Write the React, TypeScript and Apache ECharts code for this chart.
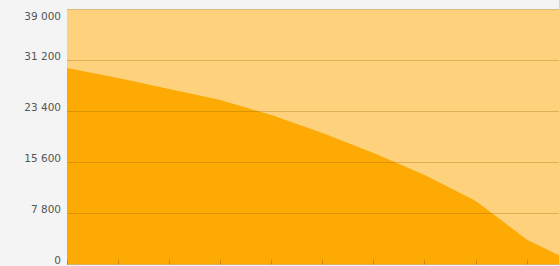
import React, { useEffect, useRef } from "react";
import * as echarts from "echarts";

const categories = ["0", "1", "2", "3", "4", "5", "6", "7", "8", "9", "10"];
const seriesValues = [30050, 28520, 26840, 25160, 22860, 20110, 17050, 13690, 9710, 3800, 0];
const yTickLabels = ["0", "7 800", "15 600", "23 400", "31 200", "39 000"];

export default function App() {
  const ref = useRef<HTMLDivElement>(null);
  useEffect(() => {
    document.body.style.margin = "0";
    const chart = echarts.init(ref.current!, undefined, { renderer: "svg" });
    chart.setOption({
      animation: false,
      backgroundColor: "#f4f4f4",
      grid: {
        left: 67,
        top: 9.5,
        width: 511,
        height: 255,
        show: true,
        backgroundColor: "#fed27c",
        borderWidth: 0,
      },
      xAxis: {
        type: "category",
        data: categories,
        boundaryGap: false,
        z: 3,
        axisLine: { show: false },
        axisTick: { show: true, inside: true, length: 5, lineStyle: { color: "rgba(120,80,0,0.35)" } },
        axisLabel: { show: false },
        splitLine: { show: false },
      },
      yAxis: {
        type: "value",
        min: 0,
        max: 39000,
        interval: 7800,
        z: 3,
        axisLine: { show: false },
        axisTick: { show: false },
        splitLine: { show: true, lineStyle: { color: "rgba(150,100,0,0.3)", width: 1 } },
        axisLabel: {
          margin: 6,
          color: "#555",
          fontFamily: "DejaVu Sans, sans-serif",
          fontSize: 10.5,
          formatter: (v: number) => {
            const i = Math.round(v / 7800);
            const t = yTickLabels[i] ?? "";
            return i === yTickLabels.length - 1 ? `{top|${t}}` : `{n|${t}}`;
          },
          rich: {
            n: { padding: [0, 0, 9, 0], color: "#555", fontFamily: "DejaVu Sans, sans-serif", fontSize: 10.5 },
            top: { padding: [12, 0, 0, 0], color: "#555", fontFamily: "DejaVu Sans, sans-serif", fontSize: 10.5 },
          },
        },
      },
      series: [
        {
          type: "line",
          data: seriesValues,
          symbol: "none",
          smooth: false,
          lineStyle: { width: 0 },
          areaStyle: { color: "#fdaa04", opacity: 1 },
          z: 2,
        },
      ],
    });
    return () => chart.dispose();
  }, []);
  return (
    <div style={{ width: 559, height: 266, position: "fixed", left: 0, top: 0, overflow: "hidden" }}>
      <div ref={ref} style={{ width: 600, height: 266 }} />
    </div>
  );
}
